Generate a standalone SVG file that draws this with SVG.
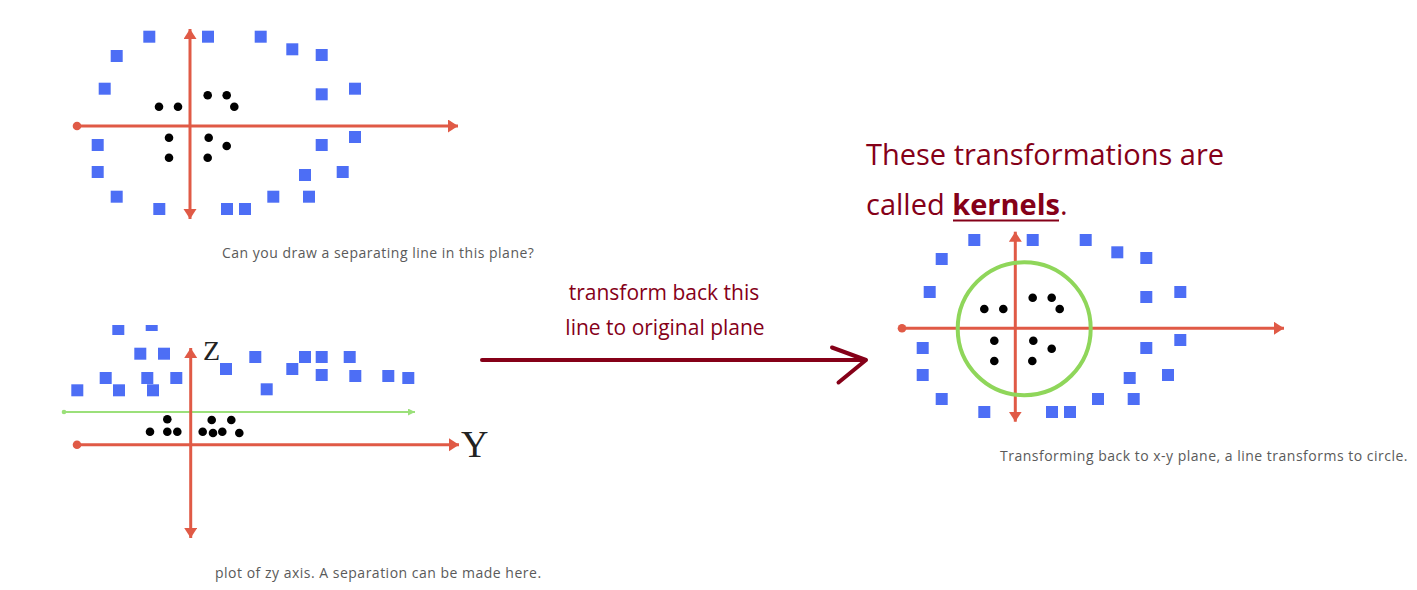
<svg xmlns="http://www.w3.org/2000/svg" width="1417" height="590" viewBox="0 0 1417 590">
<style>
.sq{fill:#4d6ef5}
.dt{fill:#000}
.ax{stroke:#e05a46;stroke-width:3;fill:none}
.cap{font-family:"Open Sans","Noto Sans",sans-serif;font-size:14px;letter-spacing:0.5px;fill:#5a5a5a}
.dr{fill:#850018;font-family:"Open Sans","Noto Sans",sans-serif}
.lbl{font-family:"Liberation Serif",serif;fill:#222}
</style>
<defs>
<marker id="ah" markerUnits="userSpaceOnUse" markerWidth="12" markerHeight="14" refX="10" refY="6.5" orient="auto-start-reverse" viewBox="0 0 12 14">
<path d="M0,0 L10,6.5 L0,13 z" fill="#e05a46"/>
</marker>
<marker id="dotm" markerUnits="userSpaceOnUse" markerWidth="10" markerHeight="10" refX="5" refY="5" viewBox="0 0 10 10">
<circle cx="5" cy="5" r="4.3" fill="#e05a46"/>
</marker>
<marker id="gah" markerUnits="userSpaceOnUse" markerWidth="8" markerHeight="8" refX="7" refY="3.5" orient="auto" viewBox="0 0 8 8">
<path d="M0,0 L7,3.5 L0,7 z" fill="#9be07a"/>
</marker>
<marker id="gdot" markerUnits="userSpaceOnUse" markerWidth="6" markerHeight="6" refX="3" refY="3" viewBox="0 0 6 6">
<circle cx="3" cy="3" r="2.3" fill="#9be07a"/>
</marker>
<clipPath id="clipzy"><rect x="0" y="325" width="500" height="265"/></clipPath>
</defs>

<g id="plot-xy">
<line class="ax" x1="77" y1="126" x2="458" y2="126" marker-start="url(#dotm)" marker-end="url(#ah)"/>
<line class="ax" x1="190" y1="29" x2="190" y2="219" marker-start="url(#ah)" marker-end="url(#ah)"/>
<rect class="sq" x="143.3" y="30.7" width="12" height="12"/>
<rect class="sq" x="202" y="30.7" width="12" height="12"/>
<rect class="sq" x="254.7" y="30.7" width="12" height="12"/>
<rect class="sq" x="110.7" y="50" width="12" height="12"/>
<rect class="sq" x="286.3" y="43.3" width="12" height="12"/>
<rect class="sq" x="315.7" y="49" width="12" height="12"/>
<rect class="sq" x="98.7" y="82.7" width="12" height="12"/>
<rect class="sq" x="315.7" y="88.3" width="12" height="12"/>
<rect class="sq" x="349" y="82.7" width="12" height="12"/>
<rect class="sq" x="91.7" y="139" width="12" height="12"/>
<rect class="sq" x="315.7" y="139" width="12" height="12"/>
<rect class="sq" x="349" y="131" width="12" height="12"/>
<rect class="sq" x="91.7" y="166" width="12" height="12"/>
<rect class="sq" x="299" y="169" width="12" height="12"/>
<rect class="sq" x="336.7" y="166" width="12" height="12"/>
<rect class="sq" x="110.7" y="190.7" width="12" height="12"/>
<rect class="sq" x="267.3" y="190.7" width="12" height="12"/>
<rect class="sq" x="303" y="190.7" width="12" height="12"/>
<rect class="sq" x="153.3" y="203" width="12" height="12"/>
<rect class="sq" x="221" y="203" width="12" height="12"/>
<rect class="sq" x="239" y="203" width="12" height="12"/>
<circle class="dt" cx="159" cy="106.7" r="4.3"/>
<circle class="dt" cx="178" cy="106.7" r="4.3"/>
<circle class="dt" cx="207.7" cy="95.3" r="4.3"/>
<circle class="dt" cx="226.7" cy="95.3" r="4.3"/>
<circle class="dt" cx="234.3" cy="106.7" r="4.3"/>
<circle class="dt" cx="169" cy="137.7" r="4.3"/>
<circle class="dt" cx="208.7" cy="137.7" r="4.3"/>
<circle class="dt" cx="226.7" cy="146" r="4.3"/>
<circle class="dt" cx="169" cy="157.7" r="4.3"/>
<circle class="dt" cx="207.7" cy="157.7" r="4.3"/>
<text class="cap" x="222" y="258">Can you draw a separating line in this plane?</text>
</g>

<g id="plot-zy">
<g clip-path="url(#clipzy)">
<rect class="sq" x="112.3" y="323" width="12" height="12"/>
<rect class="sq" x="145.7" y="319" width="12" height="12"/>
</g>
<rect class="sq" x="134.3" y="347.7" width="12" height="12"/>
<rect class="sq" x="158" y="347.7" width="12" height="12"/>
<rect class="sq" x="249.3" y="351" width="12" height="12"/>
<rect class="sq" x="299" y="351" width="12" height="12"/>
<rect class="sq" x="315.7" y="351" width="12" height="12"/>
<rect class="sq" x="343.7" y="351" width="12" height="12"/>
<rect class="sq" x="220" y="363" width="12" height="12"/>
<rect class="sq" x="286.3" y="363" width="12" height="12"/>
<rect class="sq" x="315.7" y="369" width="12" height="12"/>
<rect class="sq" x="349.3" y="370" width="12" height="12"/>
<rect class="sq" x="382.3" y="370" width="12" height="12"/>
<rect class="sq" x="402.3" y="372" width="12" height="12"/>
<rect class="sq" x="99.7" y="372" width="12" height="12"/>
<rect class="sq" x="141.3" y="372" width="12" height="12"/>
<rect class="sq" x="170.3" y="372" width="12" height="12"/>
<rect class="sq" x="71.3" y="384.3" width="12" height="12"/>
<rect class="sq" x="113" y="384.3" width="12" height="12"/>
<rect class="sq" x="147" y="384.3" width="12" height="12"/>
<rect class="sq" x="260.7" y="383.3" width="12" height="12"/>
<line x1="64" y1="412" x2="415" y2="412" stroke="#9be07a" stroke-width="2" marker-start="url(#gdot)" marker-end="url(#gah)"/>
<line class="ax" x1="77" y1="444.7" x2="459" y2="444.7" marker-start="url(#dotm)" marker-end="url(#ah)"/>
<line class="ax" x1="190.7" y1="348" x2="190.7" y2="538" marker-start="url(#ah)" marker-end="url(#ah)"/>
<circle class="dt" cx="167.3" cy="419.3" r="4.3"/>
<circle class="dt" cx="211.7" cy="420" r="4.3"/>
<circle class="dt" cx="231.3" cy="420" r="4.3"/>
<circle class="dt" cx="150" cy="431.7" r="4.3"/>
<circle class="dt" cx="167.3" cy="431.7" r="4.3"/>
<circle class="dt" cx="177.3" cy="431.7" r="4.3"/>
<circle class="dt" cx="202.7" cy="431.7" r="4.3"/>
<circle class="dt" cx="213" cy="433" r="4.3"/>
<circle class="dt" cx="222.3" cy="431.7" r="4.3"/>
<circle class="dt" cx="239.3" cy="433" r="4.3"/>
<text class="lbl" x="203" y="360" font-size="28">Z</text>
<text class="lbl" x="461" y="457" font-size="38">Y</text>
<text class="cap" x="215" y="578">plot of zy axis. A separation can be made here.</text>
</g>

<g id="plot-kernel">
<line class="ax" x1="902" y1="328.3" x2="1284" y2="328.3" marker-start="url(#dotm)" marker-end="url(#ah)"/>
<line class="ax" x1="1015.3" y1="231.7" x2="1015.3" y2="421.7" marker-start="url(#ah)" marker-end="url(#ah)"/>
<circle cx="1024.2" cy="328.7" r="66.5" fill="none" stroke="#8fd65a" stroke-width="4"/>
<rect class="sq" x="968.3" y="234" width="12" height="12"/>
<rect class="sq" x="1026.7" y="234" width="12" height="12"/>
<rect class="sq" x="1079.7" y="234" width="12" height="12"/>
<rect class="sq" x="935.7" y="253" width="12" height="12"/>
<rect class="sq" x="1111.3" y="246.3" width="12" height="12"/>
<rect class="sq" x="1140.3" y="252" width="12" height="12"/>
<rect class="sq" x="923.7" y="286" width="12" height="12"/>
<rect class="sq" x="1140.3" y="291" width="12" height="12"/>
<rect class="sq" x="1174.3" y="286" width="12" height="12"/>
<rect class="sq" x="916.7" y="342" width="12" height="12"/>
<rect class="sq" x="1140.3" y="342" width="12" height="12"/>
<rect class="sq" x="1174.3" y="334" width="12" height="12"/>
<rect class="sq" x="916.7" y="369" width="12" height="12"/>
<rect class="sq" x="1123.7" y="372" width="12" height="12"/>
<rect class="sq" x="1162" y="369" width="12" height="12"/>
<rect class="sq" x="935.7" y="393" width="12" height="12"/>
<rect class="sq" x="1092" y="393" width="12" height="12"/>
<rect class="sq" x="1127.7" y="393" width="12" height="12"/>
<rect class="sq" x="978.3" y="406" width="12" height="12"/>
<rect class="sq" x="1046" y="406" width="12" height="12"/>
<rect class="sq" x="1064" y="406" width="12" height="12"/>
<circle class="dt" cx="984.3" cy="309" r="4.3"/>
<circle class="dt" cx="1003.3" cy="309" r="4.3"/>
<circle class="dt" cx="1032.7" cy="297.7" r="4.3"/>
<circle class="dt" cx="1051.7" cy="297.7" r="4.3"/>
<circle class="dt" cx="1059.7" cy="309" r="4.3"/>
<circle class="dt" cx="994.3" cy="340.7" r="4.3"/>
<circle class="dt" cx="1033.3" cy="340.7" r="4.3"/>
<circle class="dt" cx="1051.7" cy="348.7" r="4.3"/>
<circle class="dt" cx="994.3" cy="361" r="4.3"/>
<circle class="dt" cx="1032.3" cy="361" r="4.3"/>
<text class="cap" x="1000" y="461">Transforming back to x-y plane, a line transforms to circle.</text>
</g>

<g id="title">
<text class="dr" x="866" y="165" font-size="29">These transformations are</text>
<text class="dr" x="866" y="215" font-size="29">called <tspan font-weight="bold">kernels</tspan>.</text>
<line x1="953" y1="220.5" x2="1059" y2="220.5" stroke="#850018" stroke-width="2"/>
</g>

<g id="connectors">
<line x1="482" y1="360" x2="865" y2="360" stroke="#850018" stroke-width="4" stroke-linecap="round"/>
<polyline points="832,347.5 866,360 838.5,382.5" fill="none" stroke="#850018" stroke-width="4" stroke-linecap="round" stroke-linejoin="round"/>
<text class="dr" x="664" y="300" font-size="21" text-anchor="middle">transform back this</text>
<text class="dr" x="665" y="335" font-size="21" text-anchor="middle">line to original plane</text>
</g>
</svg>
